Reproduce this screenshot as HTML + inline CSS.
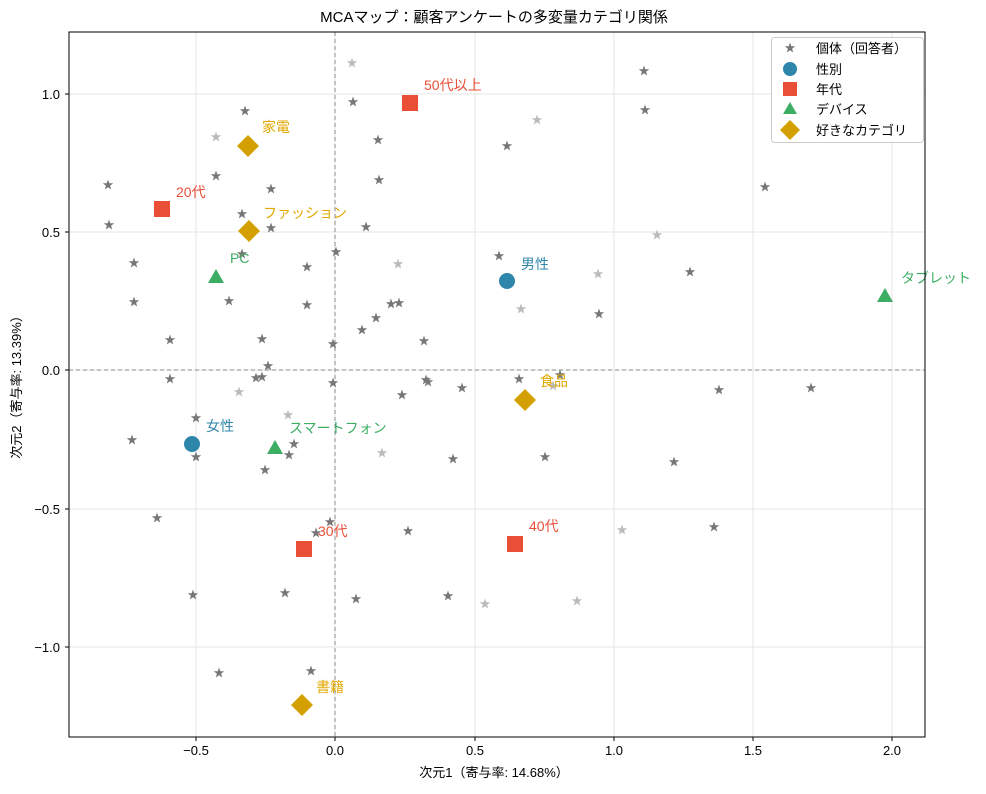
<!DOCTYPE html><html><head><meta charset="utf-8"><style>body{margin:0;background:#fff}svg{font-family:"Liberation Sans","Noto Sans CJK JP",sans-serif}</style></head><body>
<svg width="986" height="789" xmlns="http://www.w3.org/2000/svg">
<defs><path id="st" d="M0,-5.5 L1.3,-1.8 5.2,-1.7 2.1,0.7 3.2,4.5 0,2.2 -3.2,4.5 -2.1,0.7 -5.2,-1.7 -1.3,-1.8Z"/></defs>
<g stroke="#e6e6e6" stroke-width="1">
<line x1="196" y1="32" x2="196" y2="737"/><line x1="335" y1="32" x2="335" y2="737"/><line x1="475" y1="32" x2="475" y2="737"/><line x1="614" y1="32" x2="614" y2="737"/><line x1="753" y1="32" x2="753" y2="737"/><line x1="892" y1="32" x2="892" y2="737"/>
<line x1="69" y1="94" x2="925" y2="94"/><line x1="69" y1="232" x2="925" y2="232"/><line x1="69" y1="370" x2="925" y2="370"/><line x1="69" y1="509" x2="925" y2="509"/><line x1="69" y1="647" x2="925" y2="647"/></g>
<g stroke="#888" stroke-dasharray="4,3"><line x1="335" y1="32" x2="335" y2="737"/><line x1="69" y1="370" x2="925" y2="370"/></g>
<g fill="#777">
<use href="#st" x="108" y="185"/><use href="#st" x="109" y="225"/><use href="#st" x="134" y="263"/><use href="#st" x="134" y="302"/><use href="#st" x="132" y="440"/><use href="#st" x="170" y="340"/><use href="#st" x="170" y="379"/><use href="#st" x="157" y="518"/><use href="#st" x="193" y="595"/><use href="#st" x="219" y="673"/><use href="#st" x="196" y="418"/><use href="#st" x="196" y="457"/><use href="#st" x="216" y="176"/><use href="#st" x="229" y="301"/><use href="#st" x="242" y="214"/><use href="#st" x="242" y="254"/><use href="#st" x="245" y="111"/><use href="#st" x="271" y="189"/><use href="#st" x="271" y="228"/><use href="#st" x="262" y="339"/><use href="#st" x="268" y="366"/><use href="#st" x="256" y="378"/><use href="#st" x="262" y="377"/><use href="#st" x="265" y="470"/><use href="#st" x="294" y="444"/><use href="#st" x="289" y="455"/><use href="#st" x="307" y="267"/><use href="#st" x="307" y="305"/><use href="#st" x="285" y="593"/><use href="#st" x="316" y="533"/><use href="#st" x="311" y="671"/><use href="#st" x="330" y="522"/><use href="#st" x="333" y="344"/><use href="#st" x="333" y="383"/><use href="#st" x="336" y="252"/><use href="#st" x="353" y="102"/><use href="#st" x="378" y="140"/><use href="#st" x="379" y="180"/><use href="#st" x="366" y="227"/><use href="#st" x="362" y="330"/><use href="#st" x="376" y="318"/><use href="#st" x="391" y="304"/><use href="#st" x="399" y="303"/><use href="#st" x="424" y="341"/><use href="#st" x="426" y="380"/><use href="#st" x="428" y="382"/><use href="#st" x="402" y="395"/><use href="#st" x="408" y="531"/><use href="#st" x="453" y="459"/><use href="#st" x="448" y="596"/><use href="#st" x="356" y="599"/><use href="#st" x="462" y="388"/><use href="#st" x="507" y="146"/><use href="#st" x="499" y="256"/><use href="#st" x="519" y="379"/><use href="#st" x="545" y="457"/><use href="#st" x="560" y="375"/><use href="#st" x="599" y="314"/><use href="#st" x="644" y="71"/><use href="#st" x="645" y="110"/><use href="#st" x="674" y="462"/><use href="#st" x="690" y="272"/><use href="#st" x="719" y="390"/><use href="#st" x="714" y="527"/><use href="#st" x="765" y="187"/><use href="#st" x="811" y="388"/></g>
<g fill="#bbb">
<use href="#st" x="352" y="63"/><use href="#st" x="216" y="137"/><use href="#st" x="239" y="392"/><use href="#st" x="288" y="415"/><use href="#st" x="398" y="264"/><use href="#st" x="382" y="453"/><use href="#st" x="485" y="604"/><use href="#st" x="521" y="309"/><use href="#st" x="537" y="120"/><use href="#st" x="598" y="274"/><use href="#st" x="657" y="235"/><use href="#st" x="622" y="530"/><use href="#st" x="577" y="601"/><use href="#st" x="553" y="386"/></g>
<g fill="#2e86ab"><circle cx="507" cy="281" r="8"/><circle cx="192" cy="444" r="8"/></g>
<g fill="#e94f37"><rect x="154" y="201" width="16" height="16"/><rect x="402" y="95" width="16" height="16"/><rect x="296" y="541" width="16" height="16"/><rect x="507" y="536" width="16" height="16"/></g>
<g fill="#3cae63"><path d="M216,269 l8,14 h-16z"/><path d="M275,440 l8,14 h-16z"/><path d="M885,288 l8,14 h-16z"/></g>
<g fill="#d4a000"><path d="M248,135 l11,11 -11,11 -11,-11z"/><path d="M249,220 l11,11 -11,11 -11,-11z"/><path d="M525,389 l11,11 -11,11 -11,-11z"/><path d="M302,694 l11,11 -11,11 -11,-11z"/></g>
<g font-size="14">
<g fill="#2e86ab"><text x="521" y="269">男性</text><text x="206" y="431">女性</text></g>
<g fill="#e94f37"><text x="176" y="197">20代</text><text x="424" y="90">50代以上</text><text x="318" y="536">30代</text><text x="529" y="531">40代</text></g>
<g fill="#3cae63"><text x="230" y="263">PC</text><text x="289" y="433">スマートフォン</text><text x="901" y="283">タブレット</text></g>
<g fill="#e0a800"><text x="262" y="132">家電</text><text x="263" y="218">ファッション</text><text x="540" y="386">食品</text><text x="316" y="692">書籍</text></g></g>
<rect x="69" y="32" width="856" height="705" fill="none" stroke="#000"/>
<g font-size="13" fill="#000" text-anchor="middle">
<text x="196" y="755">−0.5</text><text x="335" y="755">0.0</text><text x="475" y="755">0.5</text><text x="614" y="755">1.0</text><text x="753" y="755">1.5</text><text x="892" y="755">2.0</text>
<text x="494" y="777">次元1（寄与率: 14.68%）</text>
<text x="494" y="22" font-size="15">MCAマップ：顧客アンケートの多変量カテゴリ関係</text></g>
<g font-size="13" text-anchor="end"><text x="60" y="99">1.0</text><text x="60" y="237">0.5</text><text x="60" y="375">0.0</text><text x="60" y="514">−0.5</text><text x="60" y="652">−1.0</text></g>
<g stroke="#000"><line x1="196" y1="737" x2="196" y2="741"/><line x1="335" y1="737" x2="335" y2="741"/><line x1="475" y1="737" x2="475" y2="741"/><line x1="614" y1="737" x2="614" y2="741"/><line x1="753" y1="737" x2="753" y2="741"/><line x1="892" y1="737" x2="892" y2="741"/><line x1="65" y1="94" x2="69" y2="94"/><line x1="65" y1="232" x2="69" y2="232"/><line x1="65" y1="370" x2="69" y2="370"/><line x1="65" y1="509" x2="69" y2="509"/><line x1="65" y1="647" x2="69" y2="647"/></g>
<text transform="translate(21,384) rotate(-90)" font-size="13" text-anchor="middle">次元2（寄与率: 13.39%）</text>
<rect x="771.5" y="37.5" width="152" height="105" rx="3" fill="#fff" fill-opacity="0.9" stroke="#ccc"/>
<use href="#st" x="790" y="48" fill="#777"/>
<circle cx="790" cy="69" r="7" fill="#2e86ab"/>
<rect x="783" y="82" width="14" height="14" fill="#e94f37"/>
<path d="M790,102 l7,12 h-14z" fill="#3cae63"/>
<path d="M790,120 l10,10 -10,10 -10,-10z" fill="#d4a000"/>
<g font-size="13"><text x="816" y="53">個体（回答者）</text><text x="816" y="74">性別</text><text x="816" y="94">年代</text><text x="816" y="114">デバイス</text><text x="816" y="135">好きなカテゴリ</text></g>
</svg></body></html>
